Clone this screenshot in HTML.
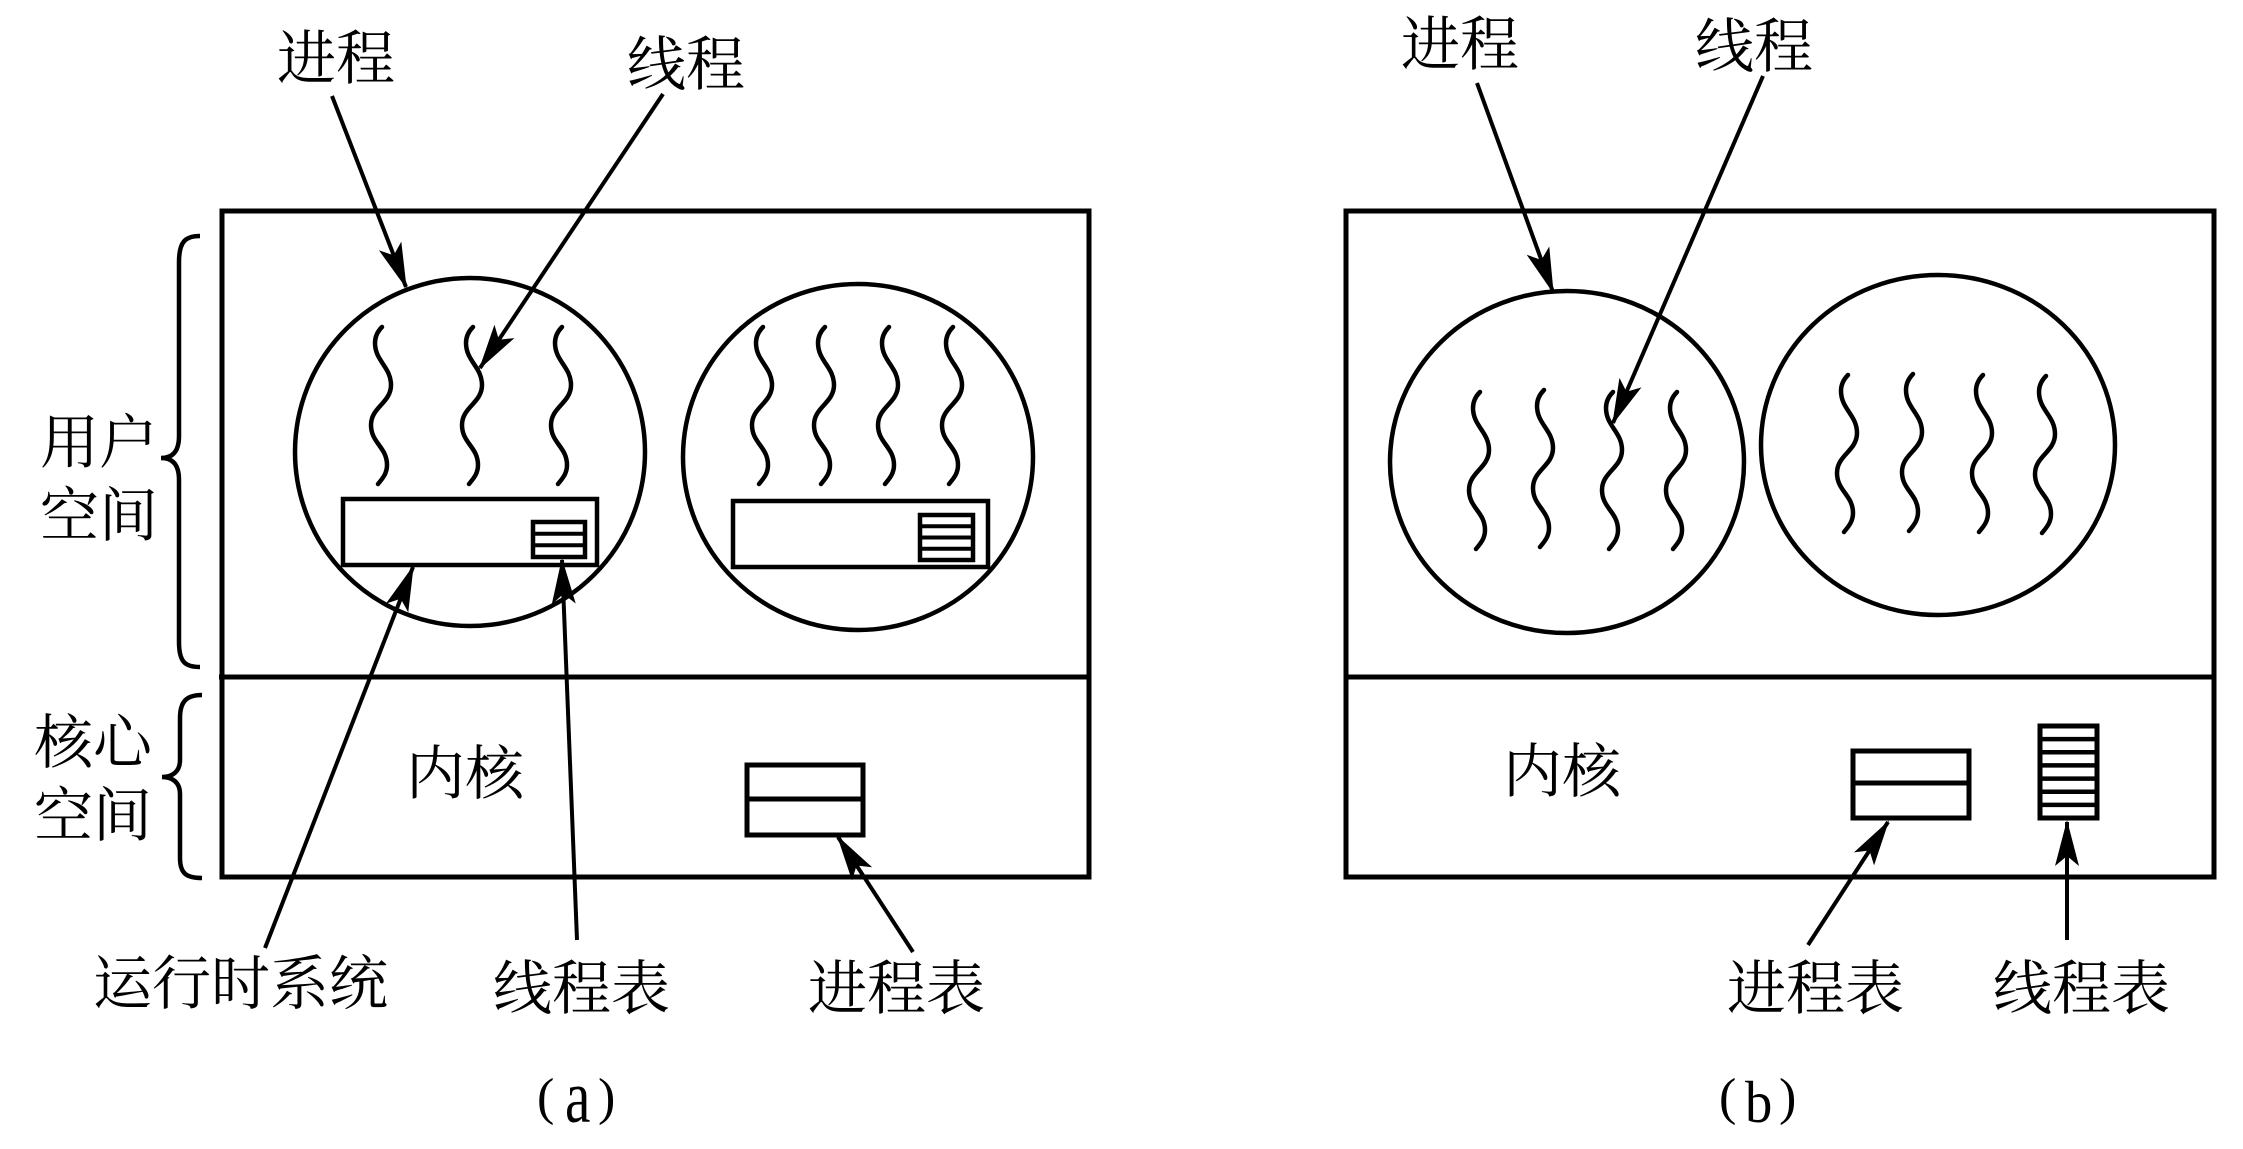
<!DOCTYPE html>
<html>
<head>
<meta charset="utf-8">
<style>
  html,body{margin:0;padding:0;background:#fff;}
  svg{display:block;}
  .t{font-family:"Liberation Serif","Noto Serif CJK SC","Noto Sans CJK SC",serif;font-size:59px;fill:#000;}
  .p{font-family:"Liberation Serif","Noto Serif CJK SC",serif;font-size:52px;fill:#000;}
</style>
</head>
<body>
<svg width="2243" height="1149" viewBox="0 0 2243 1149" xmlns="http://www.w3.org/2000/svg">
  <defs>
    <marker id="ah" viewBox="-50 -16 56 32" refX="0" refY="0" markerWidth="56" markerHeight="32" markerUnits="userSpaceOnUse" orient="auto">
      <path d="M2,0 L-44,-12 L-34,0 L-44,12 Z" fill="#000"/>
    </marker>
    <path id="w" d="M0,0 C-5,5 -7,10 -7,16 C-7,34 9,40 9,58 C9,76 -11,80 -11,98 C-11,116 5,120 5,138 C5,147 0,152 -4,157" fill="none" stroke="#000" stroke-width="4.5" stroke-linecap="round"/>
  </defs>

  <rect width="2243" height="1149" fill="#fff"/>

  <!-- ============ (a) ============ -->
  <g fill="none" stroke="#000">
    <rect x="222" y="211" width="867" height="666" stroke-width="5"/>
    <line x1="219" y1="677" x2="1089" y2="677" stroke-width="5"/>

    <!-- braces -->
    <path d="M200,236 C185,236 179,242 179,262 L179,436 C179,452 172,458 161,458 C172,458 179,464 179,480 L179,642 C179,662 185,667 200,667" stroke-width="4.5"/>
    <path d="M202,695 C187,695 180,701 180,718 L180,760 C180,772 172,777 162,777 C172,777 180,782 180,794 L180,858 C180,874 187,878 202,878" stroke-width="4.5"/>

    <!-- process circles -->
    <ellipse cx="470" cy="452" rx="175" ry="174" stroke-width="4.5"/>
    <ellipse cx="858" cy="457" rx="175" ry="173" stroke-width="4.5"/>

    <!-- runtime system rects -->
    <rect x="343" y="499" width="254" height="66" stroke-width="4.5"/>
    <rect x="733" y="501" width="255" height="66" stroke-width="4.5"/>

    <!-- thread tables in user space -->
    <rect x="533" y="522" width="52" height="35" stroke-width="4.5"/>
    <line x1="533" y1="533.7" x2="585" y2="533.7" stroke-width="4"/>
    <line x1="533" y1="545.3" x2="585" y2="545.3" stroke-width="4"/>

    <rect x="920" y="515" width="53" height="45" stroke-width="4.5"/>
    <line x1="920" y1="526.3" x2="973" y2="526.3" stroke-width="4"/>
    <line x1="920" y1="537.5" x2="973" y2="537.5" stroke-width="4"/>
    <line x1="920" y1="548.8" x2="973" y2="548.8" stroke-width="4"/>

    <!-- kernel process table -->
    <rect x="747" y="765" width="116" height="70" stroke-width="5"/>
    <line x1="747" y1="799" x2="863" y2="799" stroke-width="5"/>
  </g>

  <!-- waves (a) -->
  <use href="#w" x="382" y="327"/>
  <use href="#w" x="473" y="327"/>
  <use href="#w" x="562" y="327"/>
  <use href="#w" x="763" y="327"/>
  <use href="#w" x="825" y="327"/>
  <use href="#w" x="889" y="327"/>
  <use href="#w" x="953" y="327"/>

  <!-- arrows (a) -->
  <g stroke="#000" stroke-width="4" fill="none">
    <line x1="332" y1="96" x2="406" y2="287" marker-end="url(#ah)"/>
    <line x1="663" y1="94" x2="480" y2="368" marker-end="url(#ah)"/>
    <line x1="265" y1="948" x2="413" y2="567" marker-end="url(#ah)"/>
    <line x1="577" y1="940" x2="562" y2="560" marker-end="url(#ah)"/>
    <line x1="913" y1="952" x2="838" y2="837" marker-end="url(#ah)"/>
  </g>

  <!-- labels (a) -->
  <text class="t" x="277" y="79">进程</text>
  <text class="t" x="627" y="85">线程</text>
  <text class="t" x="40" y="463">用户</text>
  <text class="t" x="40" y="536">空间</text>
  <text class="t" x="34" y="763">核心</text>
  <text class="t" x="34" y="836">空间</text>
  <text class="t" x="406" y="794">内核</text>
  <text class="t" x="93" y="1004">运行时系统</text>
  <text class="t" x="493" y="1009">线程表</text>
  <text class="t" x="808" y="1009">进程表</text>

  <text class="p" x="537" y="1114">(</text>
  <text class="p" transform="translate(565,1122) scale(1.1,1.45)" x="0" y="0">a</text>
  <text class="p" x="598" y="1114">)</text>

  <!-- ============ (b) ============ -->
  <g fill="none" stroke="#000">
    <rect x="1346" y="211" width="868" height="666" stroke-width="5"/>
    <line x1="1346" y1="677" x2="2214" y2="677" stroke-width="5"/>

    <ellipse cx="1567" cy="462" rx="177" ry="171" stroke-width="4.5"/>
    <ellipse cx="1938" cy="445" rx="177" ry="170" stroke-width="4.5"/>

    <!-- kernel process table -->
    <rect x="1853" y="751" width="116" height="67" stroke-width="5"/>
    <line x1="1853" y1="783" x2="1969" y2="783" stroke-width="5"/>

    <!-- kernel thread table -->
    <rect x="2040" y="726" width="57" height="92" stroke-width="5"/>
    <line x1="2040" y1="739.1" x2="2097" y2="739.1" stroke-width="4.5"/>
    <line x1="2040" y1="752.3" x2="2097" y2="752.3" stroke-width="4.5"/>
    <line x1="2040" y1="765.4" x2="2097" y2="765.4" stroke-width="4.5"/>
    <line x1="2040" y1="778.6" x2="2097" y2="778.6" stroke-width="4.5"/>
    <line x1="2040" y1="791.7" x2="2097" y2="791.7" stroke-width="4.5"/>
    <line x1="2040" y1="804.9" x2="2097" y2="804.9" stroke-width="4.5"/>
  </g>

  <!-- waves (b) -->
  <use href="#w" x="1480" y="392"/>
  <use href="#w" x="1544" y="390"/>
  <use href="#w" x="1613" y="392"/>
  <use href="#w" x="1677" y="392"/>
  <use href="#w" x="1848" y="375"/>
  <use href="#w" x="1913" y="374"/>
  <use href="#w" x="1983" y="375"/>
  <use href="#w" x="2046" y="376"/>

  <!-- arrows (b) -->
  <g stroke="#000" stroke-width="4" fill="none">
    <line x1="1477" y1="83" x2="1553" y2="292" marker-end="url(#ah)"/>
    <line x1="1763" y1="76" x2="1613" y2="423" marker-end="url(#ah)"/>
    <line x1="1808" y1="945" x2="1888" y2="822" marker-end="url(#ah)"/>
    <line x1="2067" y1="940" x2="2067" y2="822" marker-end="url(#ah)"/>
  </g>

  <!-- labels (b) -->
  <text class="t" x="1401" y="65">进程</text>
  <text class="t" x="1695" y="67">线程</text>
  <text class="t" x="1503" y="792">内核</text>
  <text class="t" x="1727" y="1009">进程表</text>
  <text class="t" x="1993" y="1009">线程表</text>

  <text class="p" x="1719" y="1114">(</text>
  <text class="p" transform="translate(1745,1122) scale(1.05,1.15)" x="0" y="0">b</text>
  <text class="p" x="1779" y="1114">)</text>
</svg>
</body>
</html>
